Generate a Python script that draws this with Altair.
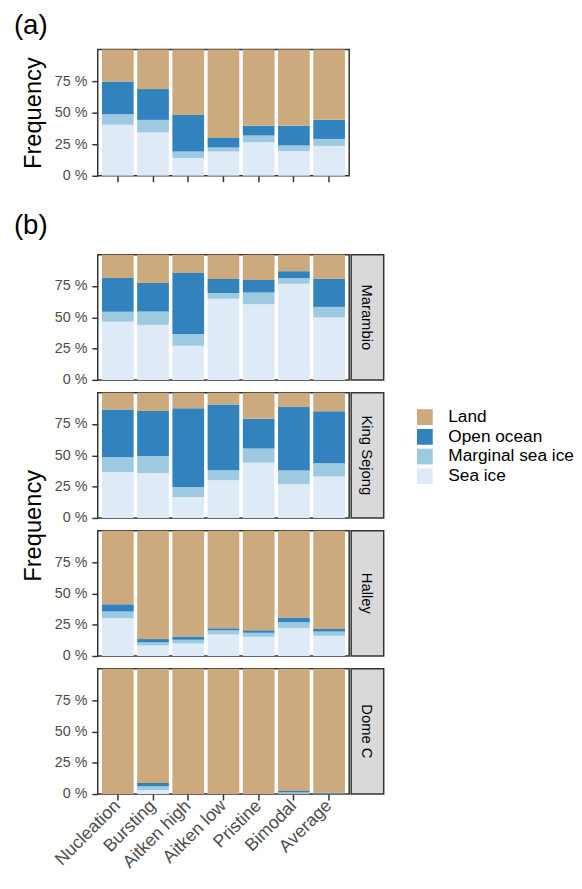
import altair as alt
import pandas as pd

FONT = "Liberation Sans"

categories = ["Nucleation", "Bursting", "Aitken high", "Aitken low", "Pristine", "Bimodal", "Average"]
classes = ["Land", "Open ocean", "Marginal sea ice", "Sea ice"]
colors = ["#CDAA7D", "#3182BD", "#9ECAE1", "#DEEBF7"]
stations = ["Marambio", "King Sejong", "Halley", "Dome C"]

# Panel (a): all stations
a_sea = [40.4, 34.4, 14.0, 19.3, 26.6, 19.5, 23.7]
a_marg = [8.3, 9.9, 5.3, 3.1, 5.4, 4.5, 5.5]
a_open = [26.0, 24.4, 28.9, 7.6, 7.6, 15.6, 15.1]

# Panel (b): per station
mar_sea = [46.5, 43.9, 27.2, 64.8, 60.4, 76.8, 49.9]
mar_marg = [7.9, 10.7, 9.4, 4.5, 9.4, 4.5, 8.4]
mar_open = [26.9, 22.8, 48.8, 11.2, 9.9, 5.5, 22.4]

ks_sea = [36.7, 35.9, 16.7, 30.2, 44.0, 27.0, 33.1]
ks_marg = [11.7, 13.6, 8.0, 7.8, 11.5, 10.8, 10.6]
ks_open = [38.1, 35.9, 62.8, 52.6, 23.7, 50.7, 41.5]

hal_sea = [30.2, 8.3, 9.9, 17.2, 15.3, 22.3, 16.1]
hal_marg = [5.4, 2.6, 3.1, 3.3, 3.2, 4.7, 3.4]
hal_open = [5.8, 2.6, 2.6, 1.6, 2.0, 3.7, 2.1]

dc_sea = [0.0, 3.1, 0.0, 0.0, 0.0, 0.5, 0.2]
dc_marg = [0.0, 3.1, 0.0, 0.0, 0.0, 0.8, 0.3]
dc_open = [0.0, 2.7, 0.0, 0.0, 0.0, 1.2, 0.6]


def frame(sea, marg, opn):
    rows = []
    for i, c in enumerate(categories):
        land = 100 - sea[i] - marg[i] - opn[i]
        for cls, v, o in [("Sea ice", sea[i], 0), ("Marginal sea ice", marg[i], 1),
                          ("Open ocean", opn[i], 2), ("Land", land, 3)]:
            rows.append({"category": c, "class": cls, "value": v, "order": o})
    return pd.DataFrame(rows)


W = 255
H_A = 128
H_B = 127
SW = 33

legend = alt.Legend(orient="none", legendX=323, legendY=364, title=None,
                    symbolType="square", symbolSize=256, symbolStrokeWidth=0,
                    symbolOpacity=1, labelFont=FONT, labelFontSize=17.5,
                    labelColor="black", labelOffset=15, rowPadding=1, padding=0)

view = alt.ViewBackground(stroke="#333333", strokeWidth=1.5, fill="white")


def bars(df, xmode, ytitle=False, ytitle_y=None, title=None, toff=0):
    if xmode == "none":
        xaxis = None
    elif xmode == "ticks":
        xaxis = alt.Axis(labels=False, title=None, domain=False, tickSize=6,
                         tickColor="#333333", tickWidth=1.5)
    else:
        xaxis = alt.Axis(title=None, domain=False, tickSize=6, tickColor="#333333",
                         tickWidth=1.5, labelAngle=-45, labelAlign="right",
                         labelBaseline="middle", labelFont=FONT, labelFontSize=18,
                         labelColor="#4D4D4D", labelPadding=3)
    yargs = dict(values=[0, 25, 50, 75], labelExpr="datum.value + ' %'", grid=False,
                 domain=False, tickSize=6, tickColor="#333333", tickWidth=1.5,
                 labelFont=FONT, labelFontSize=14.5, labelColor="#4D4D4D", labelPadding=5)
    if ytitle:
        yargs.update(title="Frequency", titleFont=FONT, titleFontSize=24,
                     titleFontWeight="normal", titleColor="black", titleX=-65,
                     titleBaseline="middle")
        if ytitle_y is not None:
            yargs["titleY"] = ytitle_y
    else:
        yargs["title"] = None
    ch = alt.Chart(df).mark_bar().encode(
        x=alt.X("category:N", sort=categories, axis=xaxis,
                scale=alt.Scale(paddingInner=0.1, paddingOuter=0.12)),
        y=alt.Y("value:Q", stack="zero", axis=alt.Axis(**yargs),
                scale=alt.Scale(domain=[0, 100], nice=False)),
        color=alt.Color("class:N", scale=alt.Scale(domain=classes, range=colors), legend=legend),
        order=alt.Order("order:Q", sort="ascending"),
    )
    h = H_A if xmode == "ticks" else H_B
    props = dict(width=W, height=h, view=view)
    if title is not None:
        props["title"] = alt.TitleParams(title, anchor="start", frame="group", dx=-85,
                                         offset=toff, font=FONT, fontSize=28,
                                         fontWeight="normal", color="black",
                                         baseline="alphabetic")
    return ch.properties(**props)


def strip(name):
    return alt.Chart(pd.DataFrame({"station": [name]})).mark_text(
        angle=90, font=FONT, fontSize=15, color="black"
    ).encode(text="station:N").properties(
        width=SW, height=H_B,
        view=alt.ViewBackground(fill="#D9D9D9", stroke="#333333", strokeWidth=1.5))


def blank(w, h):
    return alt.Chart(pd.DataFrame({"v": [0]})).mark_point(opacity=0).properties(
        width=w, height=h, view=alt.ViewBackground(stroke=None))


chart_a = bars(frame(a_sea, a_marg, a_open), "ticks", ytitle=True, title="(a)", toff=-12)

data_b = [(mar_sea, mar_marg, mar_open), (ks_sea, ks_marg, ks_open),
          (hal_sea, hal_marg, hal_open), (dc_sea, dc_marg, dc_open)]

cells = [chart_a, blank(SW, H_A), blank(W, 54), blank(SW, 54)]
for i, (st, d) in enumerate(zip(stations, data_b)):
    xmode = "labels" if i == 3 else "none"
    b = bars(frame(*d), xmode,
             ytitle=(i == 1), ytitle_y=(H_B + 13 / 2 + 1) if i == 1 else None,
             title="(b)" if i == 0 else None, toff=-7)
    cells += [b, strip(st)]

chart = alt.concat(*cells, columns=2, spacing={"row": 13, "column": 2},
                   bounds="flush").properties(
    padding={"left": 5, "top": -3, "right": 0, "bottom": 0}
).configure(font=FONT)

chart.save("out.html", embed_options={"renderer": "svg", "actions": False})
